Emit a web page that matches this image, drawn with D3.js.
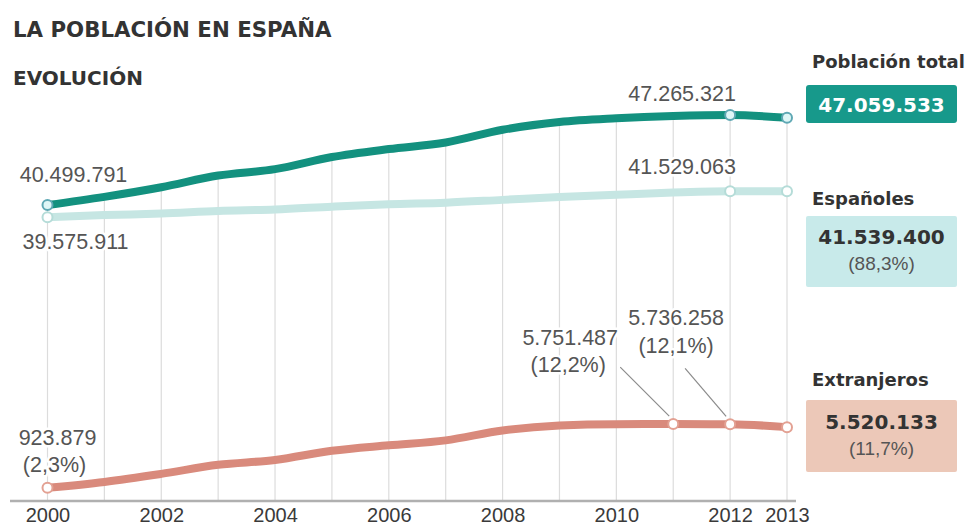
<!DOCTYPE html>
<html>
<head>
<meta charset="utf-8">
<script src="https://cdn.jsdelivr.net/npm/d3@7"></script>
<style>
  html, body { margin: 0; padding: 0; background: #fff; }
  svg { display: block; }
  text { font-family: "Liberation Sans", Arial, sans-serif; }
  .bold { font-family: "DejaVu Sans", Verdana, sans-serif; font-weight: bold; }
</style>
</head>
<body>
<svg id="chart" width="968" height="526"></svg>
<script>
// Padrón municipal, población a 1 de enero
const years = [2000, 2001, 2002, 2003, 2004, 2005, 2006, 2007, 2008, 2009, 2010, 2011, 2012, 2013];
const total = [40499791, 41116842, 41837894, 42717064, 43197684, 44108530, 44708964,
               45200737, 46157822, 46745807, 47021031, 47190493, 47265321, 47059533];
const espanoles = [39575911, 39746185, 39859948, 40052896, 40163358, 40377920, 40564798,
                   40681183, 40889060, 41097136, 41273297, 41439006, 41529063, 41539400];
const extranjeros = [923879, 1370657, 1977946, 2664168, 3034326, 3730610, 4144166,
                     4519554, 5268762, 5648671, 5747734, 5751487, 5736258, 5520133];
const tickYears = [2000, 2002, 2004, 2006, 2008, 2010, 2012, 2013];
const sharePct = { espanoles2013: "88,3%", extranjeros2013: "11,7%", ext2000: "2,3%", ext2011: "12,2%", ext2012: "12,1%" };

const fmt = d3.formatLocale({ decimal: ",", thousands: ".", grouping: [3], currency: ["", "€"] }).format(",d");

const svg = d3.select("#chart");

const C = {
  total: "#13917f", totalBox: "#17998b",
  esp: "#c6e6e3", espBox: "#c8eaea",
  ext: "#d98a7c", extBox: "#ecc8b8",
  grid: "#dcdcdc", axis: "#b0b0b0", label: "#555", dark: "#333"
};

const x = d3.scaleLinear().domain([2000, 2013]).range([47.5, 787]);
// Broken vertical axis: upper band for total/Spaniards, lower band for foreigners
const yTop = d3.scaleLinear().domain([39e6, 48e6]).range([225, 105.3]);
const yLow = d3.scaleLinear().domain([0, 6e6]).range([500, 420.8]);

const rows = years.map((yr, i) => ({ yr, total: total[i], esp: espanoles[i], ext: extranjeros[i] }));

// Titles
svg.append("text").attr("class", "bold").attr("x", 13).attr("y", 37)
  .attr("font-size", 21.3).attr("fill", C.dark).text("LA POBLACIÓN EN ESPAÑA");
svg.append("text").attr("class", "bold").attr("x", 13).attr("y", 85)
  .attr("font-size", 20).attr("fill", C.dark).text("EVOLUCIÓN");

// Vertical gridlines, from the total line down to the base
svg.append("g").selectAll("line").data(rows).join("line")
  .attr("x1", d => x(d.yr)).attr("x2", d => x(d.yr))
  .attr("y1", d => yTop(d.total)).attr("y2", yLow(0))
  .attr("stroke", C.grid).attr("stroke-width", 1.2);

// Baseline
svg.append("line").attr("x1", 10).attr("x2", 796)
  .attr("y1", yLow(0) + 1).attr("y2", yLow(0) + 1)
  .attr("stroke", C.axis).attr("stroke-width", 2.5);

// Year labels
const xAxis = d3.axisBottom(x).tickValues(tickYears).tickFormat(d3.format("d")).tickSize(0).tickPadding(0);
const axisG = svg.append("g").attr("transform", `translate(0,${yLow(0) + 6})`).call(xAxis);
axisG.select(".domain").remove();
axisG.selectAll("text").attr("font-size", 20).attr("fill", "#3a3a3a")
  .attr("font-family", "'Liberation Sans', Arial, sans-serif").attr("dy", "0.82em");

// Series lines
const lineTop = key => d3.line().x(d => x(d.yr)).y(d => yTop(d[key])).curve(d3.curveMonotoneX);
const lineLow = d3.line().x(d => x(d.yr)).y(d => yLow(d.ext)).curve(d3.curveMonotoneX);

svg.append("path").datum(rows).attr("d", lineTop("esp"))
  .attr("fill", "none").attr("stroke", C.esp).attr("stroke-width", 8).attr("stroke-linecap", "round");
svg.append("path").datum(rows).attr("d", lineTop("total"))
  .attr("fill", "none").attr("stroke", C.total).attr("stroke-width", 8).attr("stroke-linecap", "round");
svg.append("path").datum(rows).attr("d", lineLow)
  .attr("fill", "none").attr("stroke", C.ext).attr("stroke-width", 8).attr("stroke-linecap", "round");

// Highlighted points
const pick = ys => rows.filter(d => ys.includes(d.yr));
function dots(data, yFn, stroke, fill) {
  svg.append("g").selectAll("circle").data(data).join("circle")
    .attr("cx", d => x(d.yr)).attr("cy", yFn)
    .attr("r", 5).attr("fill", fill).attr("stroke", stroke).attr("stroke-width", 2);
}
dots(pick([2000, 2012, 2013]), d => yTop(d.esp), "#b5dcd8", "#fff");
dots(pick([2000, 2012, 2013]), d => yTop(d.total), "#5fa8b4", "#dff6f6");
dots(pick([2000, 2011, 2012, 2013]), d => yLow(d.ext), "#e3a193", "#fff");

// Value labels with a white halo over the gridlines
function label(txt, lx, ly, anchor) {
  svg.append("text").attr("x", lx).attr("y", ly).attr("text-anchor", anchor || "middle")
    .attr("font-size", 21.5).attr("fill", C.label)
    .attr("stroke", "#fff").attr("stroke-width", 5).attr("paint-order", "stroke")
    .attr("stroke-linejoin", "round").text(txt);
}
const r2000 = rows[0], r2011 = rows[11], r2012 = rows[12];
label(fmt(r2000.total), x(2000) + 26, yTop(r2000.total) - 23);
label(fmt(r2000.esp), x(2000) + 28, yTop(r2000.esp) + 32);
label(fmt(r2012.total), x(2012) - 48, yTop(r2012.total) - 14);
label(fmt(r2012.esp), x(2012) - 48, yTop(r2012.esp) - 17);
label(fmt(r2000.ext), x(2000) + 10, yLow(r2000.ext) - 43);
label(`(${sharePct.ext2000})`, x(2000) + 7, yLow(r2000.ext) - 16);
label(fmt(r2011.ext), x(2011) - 103, yLow(r2011.ext) - 79);
label(`(${sharePct.ext2011})`, x(2011) - 105, yLow(r2011.ext) - 52);
label(fmt(r2012.ext), x(2012) - 54, yLow(r2012.ext) - 99);
label(`(${sharePct.ext2012})`, x(2012) - 54, yLow(r2012.ext) - 71);

// Leader lines to the 2011 and 2012 points
const leaders = [
  { x1: x(2011) - 53, y1: yLow(r2011.ext) - 57, yr: 2011 },
  { x1: x(2012) - 45, y1: yLow(r2012.ext) - 56, yr: 2012 }
];
svg.append("g").selectAll("line").data(leaders).join("line")
  .attr("x1", d => d.x1).attr("y1", d => d.y1)
  .attr("x2", d => x(d.yr) - 4).attr("y2", d => yLow(rows.find(r => r.yr === d.yr).ext) - 8)
  .attr("stroke", "#8a8a8a").attr("stroke-width", 1.2);

// Legend boxes on the right
const bx = 806, bw = 151, cx = bx + bw / 2;
const last = rows[rows.length - 1];

svg.append("text").attr("class", "bold").attr("x", 812).attr("y", 68)
  .attr("font-size", 18).attr("fill", C.dark).text("Población total");
svg.append("rect").attr("x", bx).attr("y", 85).attr("width", bw).attr("height", 38)
  .attr("rx", 3).attr("fill", C.totalBox);
svg.append("text").attr("class", "bold").attr("x", cx).attr("y", 112).attr("text-anchor", "middle")
  .attr("font-size", 20).attr("fill", "#fff").text(fmt(last.total));

svg.append("text").attr("class", "bold").attr("x", 812).attr("y", 205)
  .attr("font-size", 18).attr("fill", C.dark).text("Españoles");
svg.append("rect").attr("x", bx).attr("y", 216).attr("width", bw).attr("height", 71)
  .attr("rx", 2).attr("fill", C.espBox);
svg.append("text").attr("class", "bold").attr("x", cx).attr("y", 244).attr("text-anchor", "middle")
  .attr("font-size", 20).attr("fill", C.dark).text(fmt(last.esp));
svg.append("text").attr("x", cx).attr("y", 270).attr("text-anchor", "middle")
  .attr("font-size", 19).attr("fill", C.label).text(`(${sharePct.espanoles2013})`);

svg.append("text").attr("class", "bold").attr("x", 812).attr("y", 386)
  .attr("font-size", 18).attr("fill", C.dark).text("Extranjeros");
svg.append("rect").attr("x", bx).attr("y", 400).attr("width", bw).attr("height", 72)
  .attr("rx", 2).attr("fill", C.extBox);
svg.append("text").attr("class", "bold").attr("x", cx).attr("y", 429).attr("text-anchor", "middle")
  .attr("font-size", 20).attr("fill", C.dark).text(fmt(last.ext));
svg.append("text").attr("x", cx).attr("y", 455).attr("text-anchor", "middle")
  .attr("font-size", 19).attr("fill", C.label).text(`(${sharePct.extranjeros2013})`);
</script>
</body>
</html>
